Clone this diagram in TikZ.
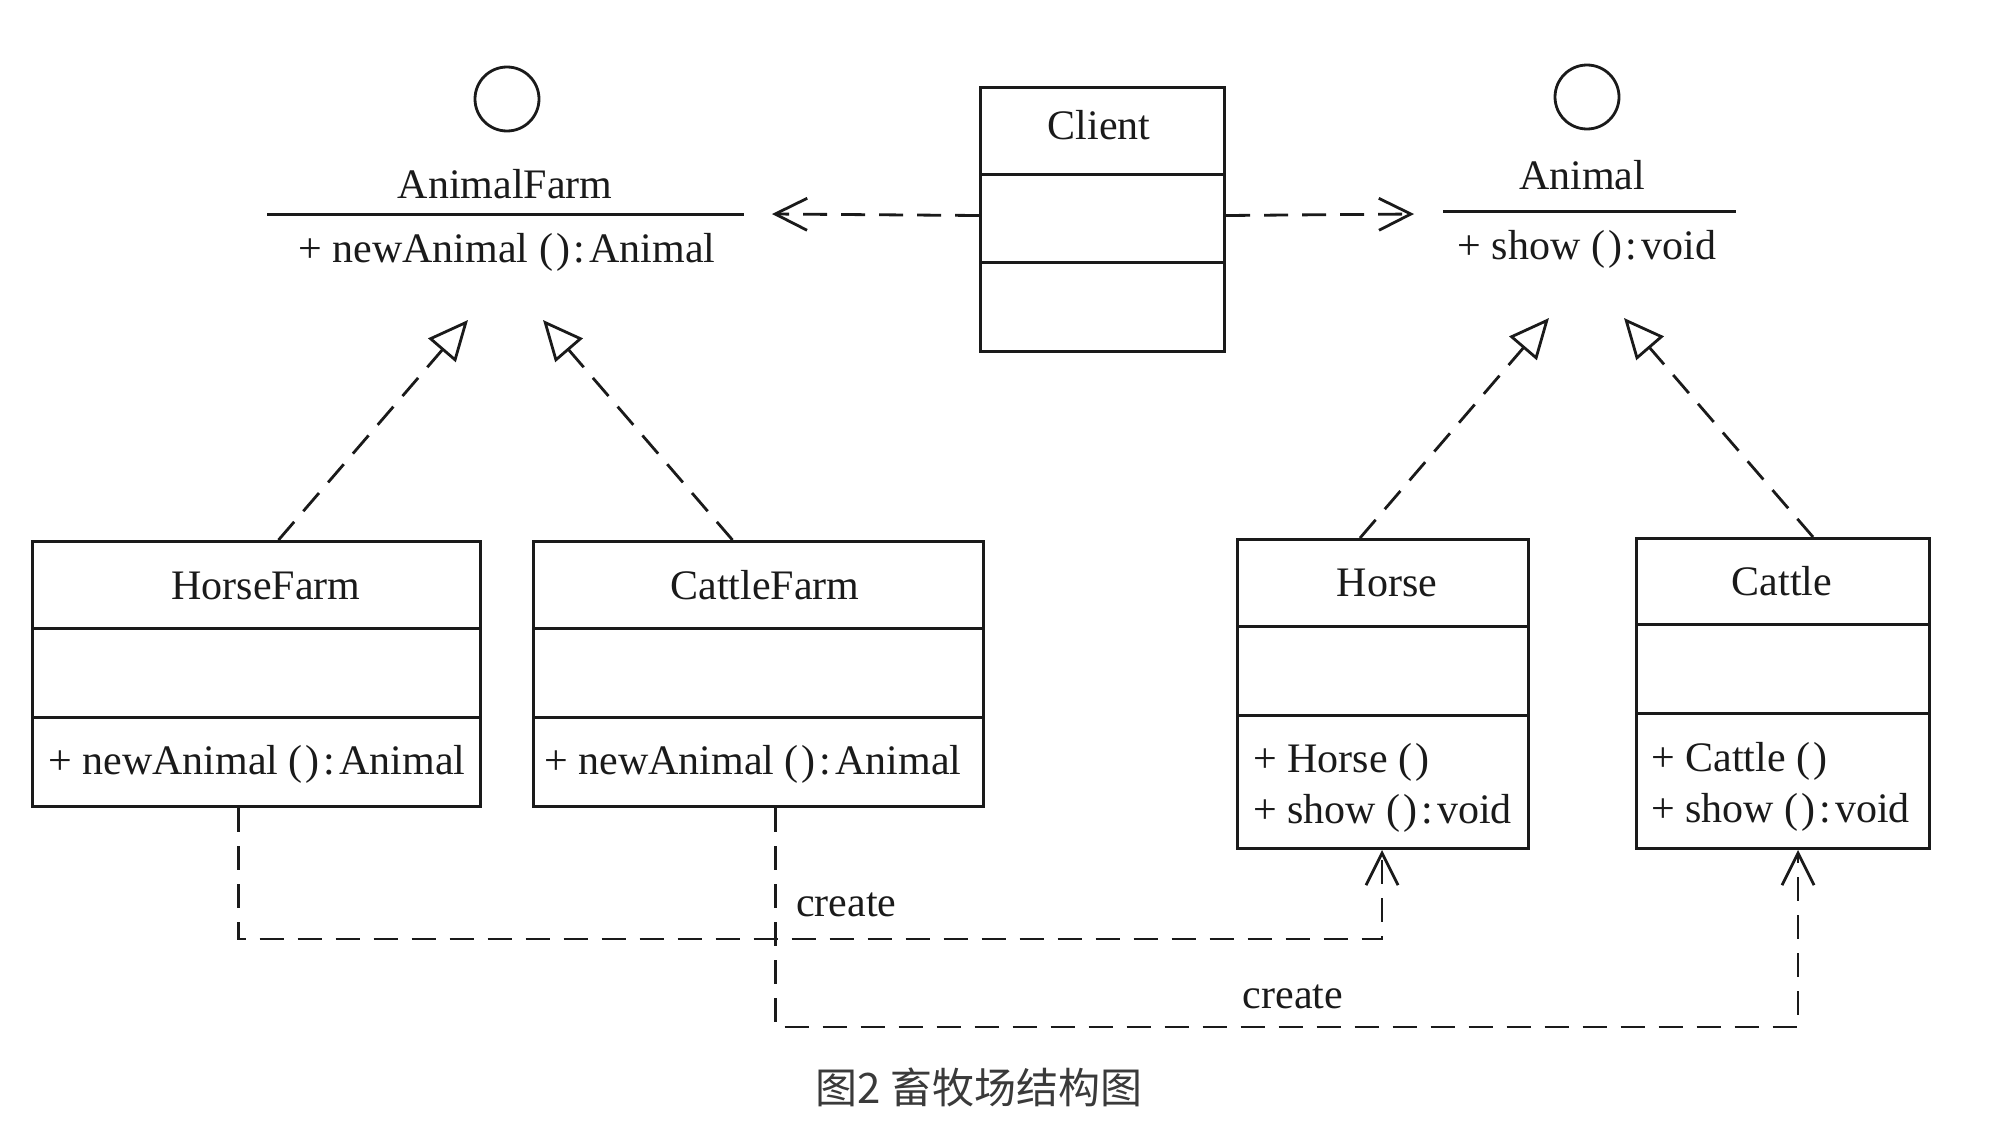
\documentclass[tikz,border=0pt]{standalone}
\usepackage{fontspec}
\setmainfont{Liberation Serif}
\newfontfamily\cjk{Noto Sans CJK SC}
\usetikzlibrary{arrows.meta}
\definecolor{inkc}{HTML}{1A1A1A}
\definecolor{capc}{HTML}{3A3A3A}
\newcommand{\pcall}{(\kern3pt)\kern4pt:\kern4pt}
\begin{document}
\begin{tikzpicture}[x=1pt,y=-1pt,
  ink/.style={draw=inkc, line width=3pt},
  classbox/.style={draw=inkc, line width=3pt, inner sep=0pt, anchor=north west},
  lbl/.style={font=\fontsize{42}{48}\selectfont, text=inkc, inner sep=0pt, anchor=base},
  lbll/.style={lbl, anchor=base west},
  dep/.style={draw=inkc, line width=2.8pt, dash pattern=on 24pt off 14pt},
  real/.style={dep, -{Triangle[open, length=40pt, width=36pt, line width=2.8pt]}},
  uses/.style={dep, -{Straight Barb[length=32pt, width=32pt, line width=2.8pt]}},
  iface/.style={circle, draw=inkc, line width=2.8pt, minimum size=64pt, inner sep=0pt},
]
\fill[white] (0,0) rectangle (1994,1132);
\useasboundingbox (0,0) rectangle (1994,1132);

% ---- interface AnimalFarm
\node[iface] (afc) at (507,99) {};
\node[lbl] (aft) at (505,198) {AnimalFarm};
\coordinate (afl1) at (267,214);
\coordinate (afl2) at (744,214);
\draw[ink] (afl1) -- (afl2);
\node[lbl] (afm) at (507,262) {+ newAnimal \pcall Animal};
\coordinate (afin) at (772,214);
\coordinate (afL) at (468,320);
\coordinate (afR) at (543,320);

% ---- interface Animal
\node[iface] (anc) at (1587,97) {};
\node[lbl] (ant) at (1582,189) {Animal};
\coordinate (anl1) at (1443,211);
\coordinate (anl2) at (1736,211);
\draw[ink] (anl1) -- (anl2);
\node[lbl] (anm) at (1587,259) {+ show \pcall void};
\coordinate (anin) at (1414,214);
\coordinate (anL) at (1549,318);
\coordinate (anR) at (1624,318);

% ---- Client
\node[classbox, minimum width=244pt, minimum height=264pt] (cl) at (979,86) {};
\draw[ink] ([yshift=-88pt]cl.north west) -- ([yshift=-88pt]cl.north east);
\draw[ink] ([yshift=-176pt]cl.north west) -- ([yshift=-176pt]cl.north east);
\node[lbl] (clt) at (1099,139) {Client};

% ---- HorseFarm
\node[classbox, minimum width=448pt, minimum height=265pt] (hf) at (31,540) {};
\draw[ink] ([yshift=-88pt]hf.north west) -- ([yshift=-88pt]hf.north east);
\draw[ink] ([yshift=-177pt]hf.north west) -- ([yshift=-177pt]hf.north east);
\node[lbl] (hft) at (266,599) {HorseFarm};
\node[lbll] (hfm) at (48,774) {+ newAnimal \pcall Animal};

% ---- CattleFarm
\node[classbox, minimum width=450pt, minimum height=265pt] (cf) at (532,540) {};
\draw[ink] ([yshift=-88pt]cf.north west) -- ([yshift=-88pt]cf.north east);
\draw[ink] ([yshift=-177pt]cf.north west) -- ([yshift=-177pt]cf.north east);
\node[lbl] (cft) at (765,599) {CattleFarm};
\node[lbll] (cfm) at (544,774) {+ newAnimal \pcall Animal};

% ---- Horse
\node[classbox, minimum width=291pt, minimum height=309pt] (h) at (1236,538) {};
\draw[ink] ([yshift=-88pt]h.north west) -- ([yshift=-88pt]h.north east);
\draw[ink] ([yshift=-177pt]h.north west) -- ([yshift=-177pt]h.north east);
\node[lbl] (ht) at (1387,596) {Horse};
\node[lbll] (hm1) at (1253,772) {+ Horse (\kern3pt)};
\node[lbll] (hm2) at (1253,823) {+ show \pcall void};

% ---- Cattle
\node[classbox, minimum width=293pt, minimum height=310pt] (c) at (1635,537) {};
\draw[ink] ([yshift=-87pt]c.north west) -- ([yshift=-87pt]c.north east);
\draw[ink] ([yshift=-176pt]c.north west) -- ([yshift=-176pt]c.north east);
\node[lbl] (ct) at (1782,595) {Cattle};
\node[lbll] (cm1) at (1651,771) {+ Cattle (\kern3pt)};
\node[lbll] (cm2) at (1651,822) {+ show \pcall void};

% ---- dependencies from Client
\draw[uses] ([yshift=4pt]cl.west) -- (afin);
\draw[uses] ([yshift=4pt]cl.east) -- (anin);

% ---- realizations
\draw[real] ([xshift=22pt]hf.north) -- (afL);
\draw[real] ([xshift=-26pt]cf.north) -- (afR);
\draw[real] ([xshift=-23pt]h.north) -- (anL);
\draw[real] ([xshift=30pt]c.north) -- (anR);

% ---- create
\draw[uses] ([xshift=-18pt]hf.south) -- ++(0,131) -| ([xshift=-1pt]h.south);
\draw[uses] ([xshift=17pt]cf.south) -- ++(0,219) -| ([xshift=15pt]c.south);
\node[lbll] (cr1) at (796,916) {create};
\node[lbl] (cr2) at (1293,1008) {create};

% ---- caption
\node[font=\cjk\fontsize{42}{48}\selectfont, text=capc, inner sep=0pt] (capt) at (979,1087) {图2 畜牧场结构图};
\end{tikzpicture}
\end{document}
